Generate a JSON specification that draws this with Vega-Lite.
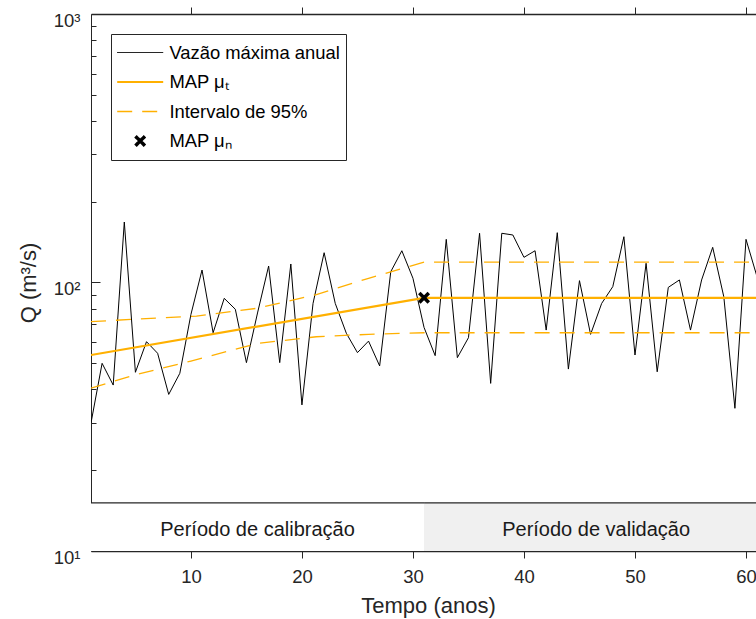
{
  "$schema": "https://vega.github.io/schema/vega-lite/v6.json",
  "width": 665,
  "height": 537,
  "autosize": {"type": "none"},
  "padding": {"left": 91, "top": 14, "right": 0, "bottom": 68},
  "background": "white",
  "config": {
    "font": "Liberation Sans",
    "view": {"stroke": null},
    "axis": {
      "grid": false,
      "domainColor": "#262626",
      "tickColor": "#262626",
      "labelColor": "#262626",
      "titleColor": "#262626",
      "labelFont": "Liberation Sans",
      "titleFont": "Liberation Sans",
      "labelFontSize": 18.5,
      "titleFontSize": 22,
      "titleFontWeight": "normal"
    }
  },
  "datasets": {
    "obs": [
      {"ano": 1, "q": 30.0}, {"ano": 2, "q": 50.0}, {"ano": 3, "q": 41.5}, {"ano": 4, "q": 168.0},
      {"ano": 5, "q": 46.3}, {"ano": 6, "q": 60.2}, {"ano": 7, "q": 54.5}, {"ano": 8, "q": 38.3},
      {"ano": 9, "q": 45.9}, {"ano": 10, "q": 76.0}, {"ano": 11, "q": 111.3}, {"ano": 12, "q": 65.0},
      {"ano": 13, "q": 87.3}, {"ano": 14, "q": 79.5}, {"ano": 15, "q": 50.3}, {"ano": 16, "q": 77.0},
      {"ano": 17, "q": 115.2}, {"ano": 18, "q": 50.3}, {"ano": 19, "q": 117.2}, {"ano": 20, "q": 35.0},
      {"ano": 21, "q": 83.6}, {"ano": 22, "q": 129.1}, {"ano": 23, "q": 83.6}, {"ano": 24, "q": 64.7},
      {"ano": 25, "q": 54.8}, {"ano": 26, "q": 60.5}, {"ano": 27, "q": 48.9}, {"ano": 28, "q": 109.7},
      {"ano": 29, "q": 131.3}, {"ano": 30, "q": 103.7}, {"ano": 31, "q": 68.0}, {"ano": 32, "q": 53.4},
      {"ano": 33, "q": 144.8}, {"ano": 34, "q": 52.5}, {"ano": 35, "q": 62.3}, {"ano": 36, "q": 152.5},
      {"ano": 37, "q": 42.1}, {"ano": 38, "q": 152.5}, {"ano": 39, "q": 150.3}, {"ano": 40, "q": 124.1},
      {"ano": 41, "q": 131.3}, {"ano": 42, "q": 66.5}, {"ano": 43, "q": 153.3}, {"ano": 44, "q": 47.6},
      {"ano": 45, "q": 101.6}, {"ano": 46, "q": 64.1}, {"ano": 47, "q": 83.6}, {"ano": 48, "q": 96.5},
      {"ano": 49, "q": 148.1}, {"ano": 50, "q": 53.7}, {"ano": 51, "q": 117.9}, {"ano": 52, "q": 46.5},
      {"ano": 53, "q": 95.9}, {"ano": 54, "q": 102.2}, {"ano": 55, "q": 66.5}, {"ano": 56, "q": 102.2},
      {"ano": 57, "q": 135.2}, {"ano": 58, "q": 88.5}, {"ano": 59, "q": 34.0}, {"ano": 60, "q": 144.8},
      {"ano": 61, "q": 104.8}
    ],
    "mapt": [
      {"ano": 1, "q": 53.7}, {"ano": 31, "q": 87.7}, {"ano": 62, "q": 87.7}
    ],
    "ic": [
      {"limite": "sup", "ano": 1, "q": 71.5}, {"limite": "sup", "ano": 5, "q": 73.0},
      {"limite": "sup", "ano": 10.5, "q": 75.0}, {"limite": "sup", "ano": 16, "q": 80.2},
      {"limite": "sup", "ano": 21.3, "q": 90.2}, {"limite": "sup", "ano": 26, "q": 103.7},
      {"limite": "sup", "ano": 31, "q": 119.0}, {"limite": "sup", "ano": 62, "q": 119.0},
      {"limite": "inf", "ano": 1, "q": 40.4}, {"limite": "inf", "ano": 5, "q": 45.3},
      {"limite": "inf", "ano": 10, "q": 51.0}, {"limite": "inf", "ano": 16, "q": 59.3},
      {"limite": "inf", "ano": 21.3, "q": 62.8}, {"limite": "inf", "ano": 26, "q": 64.1},
      {"limite": "inf", "ano": 31, "q": 65.0}, {"limite": "inf", "ano": 62, "q": 65.0}
    ],
    "mapn": [
      {"ano": 31, "q": 87.7}
    ],
    "periodos": [
      {"periodo": "Período de calibração", "inicio": 1, "fim": 31},
      {"periodo": "Período de validação", "inicio": 31, "fim": 62}
    ]
  },
  "layer": [
    {
      "data": {"name": "periodos"},
      "mark": {"type": "rect", "clip": true},
      "encoding": {
        "x": {"field": "inicio", "type": "quantitative", "scale": {"domain": [1, 60.9], "nice": false, "zero": false}, "axis": null},
        "x2": {"field": "fim"},
        "y": {"datum": 10, "type": "quantitative", "scale": {"type": "log", "domain": [10, 1000], "nice": false}, "axis": null},
        "y2": {"datum": 15.1},
        "fill": {"field": "periodo", "type": "nominal", "scale": {"domain": ["Período de calibração", "Período de validação"], "range": ["#ffffff", "#f0f0f0"]}, "legend": null}
      }
    },
    {
      "data": {"name": "periodos"},
      "mark": {"type": "rule", "color": "#262626", "strokeWidth": 1.2, "clip": true},
      "encoding": {
        "x": {"field": "inicio", "type": "quantitative", "axis": {
          "orient": "top", "values": [10, 20, 30, 40, 50, 60], "labels": false, "title": null,
          "tickSize": 7, "domainWidth": 1.5,
          "encode": {"ticks": {"update": {"y2": {"value": 7}}}}
        }},
        "x2": {"field": "fim"},
        "y": {"datum": 15.1, "type": "quantitative", "axis": null}
      }
    },
    {
      "data": {"name": "periodos"},
      "transform": [{"calculate": "(datum.inicio + datum.fim) / 2", "as": "meio"}],
      "mark": {"type": "text", "fontSize": 20, "color": "#1a1a1a", "baseline": "middle", "align": "center", "font": "Liberation Sans"},
      "encoding": {
        "x": {"field": "meio", "type": "quantitative", "axis": null},
        "y": {"datum": 12, "type": "quantitative", "axis": null},
        "text": {"field": "periodo"}
      }
    },
    {
      "data": {"name": "obs"},
      "mark": {"type": "line", "strokeWidth": 1, "clip": true},
      "encoding": {
        "x": {"field": "ano", "type": "quantitative", "axis": {
          "orient": "bottom", "values": [10, 20, 30, 40, 50, 60], "title": "Tempo (anos)",
          "tickSize": 7, "labelPadding": 9, "domainWidth": 1.5, "labelFlush": false, "labelOverlap": false,
          "titleX": 337, "titleY": 54, "titleBaseline": "middle", "titleAlign": "center",
          "encode": {"ticks": {"update": {"y2": {"value": -7}}}}
        }},
        "y": {"field": "q", "type": "quantitative", "axis": {
          "orient": "left",
          "values": [10, 100, 1000],
          "labelExpr": "datum.value === 10 ? '10¹' : datum.value === 100 ? '10²' : '10³'",
          "title": "Q (m³/s)",
          "tickSize": -9, "labelPadding": 20, "labelOffset": 6, "labelOverlap": false, "labelFlush": false,
          "titleX": -63, "titleY": 268.5, "titleAngle": -90, "titleBaseline": "middle", "titleAlign": "center",
          "domainWidth": 1
        }},
        "color": {
          "datum": "Vazão máxima anual", "type": "nominal",
          "scale": {"domain": ["Vazão máxima anual", "MAP μₜ", "Intervalo de 95%", "MAP μₙ"], "range": ["#000000", "#FFB000", "#FFB000", "#000000"]},
          "legend": {
            "title": null, "orient": "none", "legendX": 20, "legendY": 20, "direction": "vertical",
            "padding": 6, "rowPadding": 4.5, "clipHeight": 25,
            "labelFontSize": 18.4, "labelFont": "Liberation Sans", "labelColor": "#000000", "labelOffset": 20, "labelLimit": 400,
            "symbolOffset": 14,
            "strokeColor": "#262626", "fillColor": "#ffffff",
            "symbolType": "stroke",
            "encode": {"symbols": {"update": {
              "shape": {"signal": "datum.value === 'MAP μₙ' ? 'M-1,-1L1,1M1,-1L-1,1' : 'stroke'"},
              "size": {"signal": "datum.value === 'MAP μₙ' ? 90 : 2116"},
              "strokeWidth": {"signal": "datum.value === 'MAP μₙ' ? 3.5 : datum.value === 'MAP μₜ' ? 2.2 : datum.value === 'Intervalo de 95%' ? 1.3 : 1"},
              "strokeDash": {"signal": "datum.value === 'Intervalo de 95%' ? [15, 10] : [1, 0]"},
              "stroke": {"scale": "color", "field": "value"},
              "fill": {"value": "transparent"},
              "opacity": {"value": 1}
            }}}
          }
        }
      }
    },
    {
      "data": {"name": "mapt"},
      "mark": {"type": "line", "strokeWidth": 2.2, "clip": true},
      "encoding": {
        "x": {"field": "ano", "type": "quantitative", "axis": null},
        "y": {"field": "q", "type": "quantitative", "axis": {
          "orient": "left",
          "values": [20, 30, 40, 50, 60, 70, 80, 90, 200, 300, 400, 500, 600, 700, 800, 900],
          "labels": false, "title": null, "domain": false,
          "tickSize": -5
        }},
        "color": {"datum": "MAP μₜ", "type": "nominal"}
      }
    },
    {
      "data": {"name": "ic"},
      "mark": {"type": "line", "strokeWidth": 1.3, "strokeDash": [15, 10], "clip": true},
      "encoding": {
        "x": {"field": "ano", "type": "quantitative", "axis": null},
        "y": {"field": "q", "type": "quantitative", "axis": null},
        "detail": {"field": "limite", "type": "nominal"},
        "color": {"datum": "Intervalo de 95%", "type": "nominal"}
      }
    },
    {
      "data": {"name": "mapn"},
      "mark": {"type": "point", "shape": "M-1,-1L1,1M1,-1L-1,1", "size": 90, "strokeWidth": 3.5, "filled": false, "opacity": 1, "clip": true},
      "encoding": {
        "x": {"field": "ano", "type": "quantitative", "axis": null},
        "y": {"field": "q", "type": "quantitative", "axis": null},
        "color": {"datum": "MAP μₙ", "type": "nominal"}
      }
    }
  ],
  "resolve": {"axis": {"x": "independent", "y": "independent"}}
}
